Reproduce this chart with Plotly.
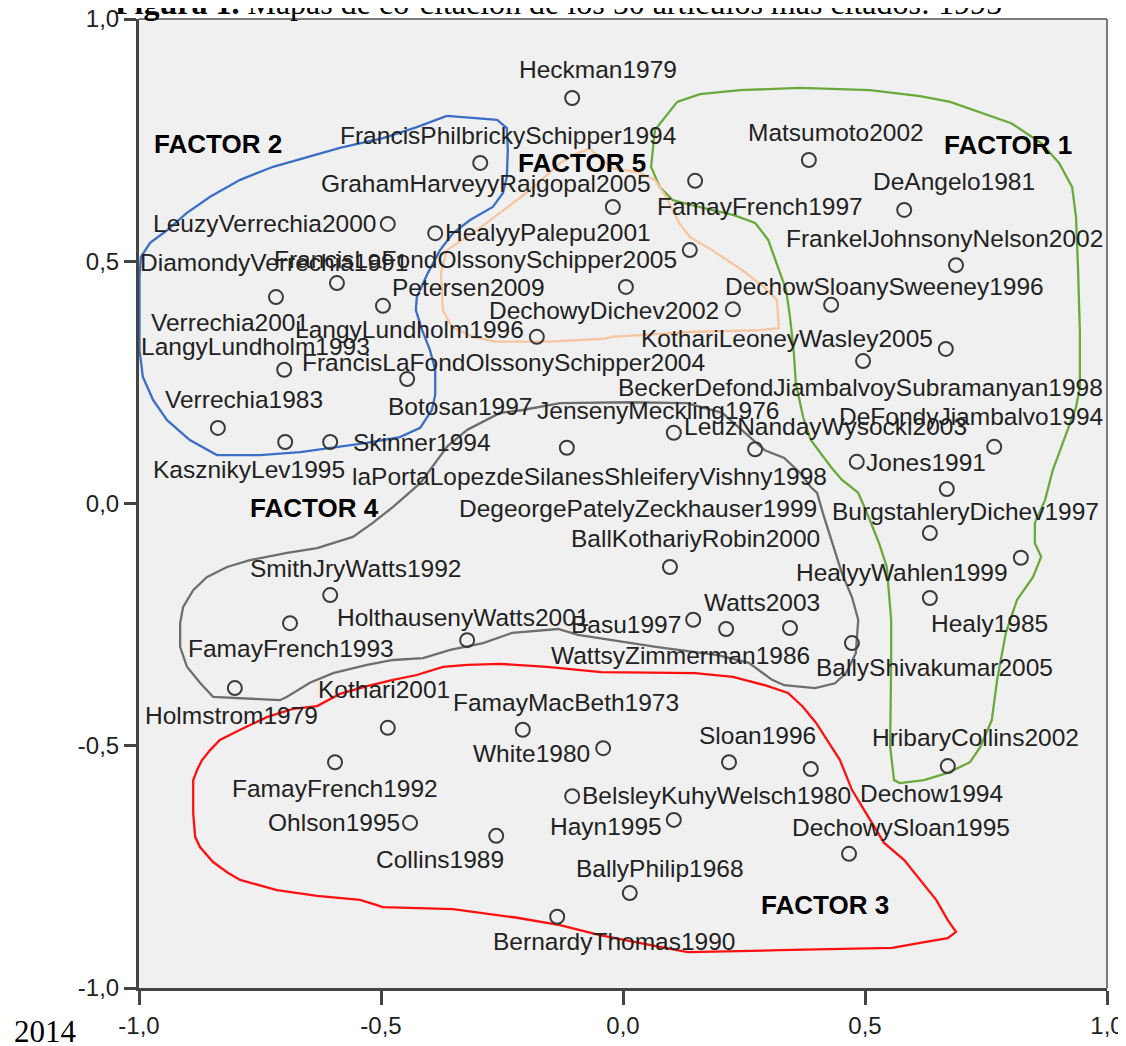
import plotly.graph_objects as go

# ---------------- data ----------------
names = [
    "Heckman1979", "FrancisPhilbrickySchipper1994", "Matsumoto2002", "GrahamHarveyyRajgopal2005",
    "FamayFrench1997", "DeAngelo1981", "LeuzyVerrechia2000", "HealyyPalepu2001",
    "FrankelJohnsonyNelson2002", "DiamondyVerrechia1991", "FrancisLaFondOlssonySchipper2005",
    "DechowSloanySweeney1996", "Petersen2009", "DechowyDichev2002", "Verrechia2001",
    "LangyLundholm1996", "KothariLeoneyWasley2005", "LangyLundholm1993",
    "FrancisLaFondOlssonySchipper2004", "BeckerDefondJiambalvoySubramanyan1998", "Verrechia1983",
    "Botosan1997", "JensenyMeckling1976", "DeFondyJiambalvo1994", "LeuzNandayWysocki2003",
    "Skinner1994", "Jones1991", "KasznikyLev1995", "laPortaLopezdeSilanesShleiferyVishny1998",
    "DegeorgePatelyZeckhauser1999", "BurgstahleryDichev1997", "BallKothariyRobin2000",
    "SmithJryWatts1992", "HealyyWahlen1999", "HolthausenyWatts2001", "Watts2003",
    "FamayFrench1993", "Basu1997", "Healy1985", "WattsyZimmerman1986", "BallyShivakumar2005",
    "Holmstrom1979", "Kothari2001", "FamayMacBeth1973", "Sloan1996", "HribaryCollins2002",
    "White1980", "FamayFrench1992", "BelsleyKuhyWelsch1980", "Dechow1994", "Ohlson1995",
    "Hayn1995", "DechowySloan1995", "Collins1989", "BallyPhilip1968", "BernardyThomas1990",
]
dim1 = [
    -0.105, -0.295, 0.384, -0.021, 0.149, 0.581, -0.486, -0.388,
    0.688, -0.717, 0.138, 0.430, -0.496, 0.227, -0.591,
    -0.178, 0.667, 0.006, -0.700, 0.496, -0.837,
    -0.446, 0.273, 0.767, 0.105, -0.605, 0.483, -0.698, -0.116,
    0.634, 0.669, 0.097, -0.605, 0.822, -0.322, 0.345,
    -0.688, 0.145, 0.634, 0.213, 0.473,
    -0.802, -0.486, -0.207, 0.219, 0.671, -0.041, -0.595, -0.105, 0.388, -0.440,
    0.105, 0.467, -0.262, 0.014, -0.136,
]
dim2 = [
    0.837, 0.703, 0.709, 0.612, 0.666, 0.606, 0.577, 0.558,
    0.492, 0.426, 0.523, 0.410, 0.408, 0.401, 0.455,
    0.344, 0.319, 0.447, 0.276, 0.294, 0.156,
    0.257, 0.112, 0.117, 0.146, 0.127, 0.086, 0.127, 0.115,
    -0.061, 0.030, -0.131, -0.189, -0.112, -0.282, -0.257,
    -0.247, -0.240, -0.195, -0.259, -0.288,
    -0.381, -0.463, -0.467, -0.534, -0.542, -0.505, -0.534, -0.604, -0.548, -0.659,
    -0.653, -0.723, -0.686, -0.804, -0.853,
]

tick_vals = [-1.0, -0.5, 0.0, 0.5, 1.0]
tick_text = ["-1,0", "-0,5", "0,0", "0,5", "1,0"]

# label placement (anchor, dx px, dy px) relative to each point
label_place = [
    ("center", 26, -28), ("center", 28, -27), ("center", 27, -27), ("right", 40, -23),
    ("left", -40, 26), ("center", 50, -28), ("right", -10, 0), ("left", 8, -1),
    ("right", 149, -27), ("left", -138, -35), ("right", -11, 9),
    ("left", -108, -18), ("left", 7, -18), ("right", -12, 1), ("left", -188, 39),
    ("right", -11, -7), ("right", -11, -10), ("left", -487, 60),
    ("left", 16, -7), ("right", 242, 26), ("left", -55, -28),
    ("left", -21, 28), ("left", -220, -39), ("right", 111, -30), ("left", 8, -6),
    ("left", 21, 1), ("left", 7, 1), ("left", -134, 28), ("left", -217, 29),
    ("right", -111, -25), ("right", 154, 23), ("left", -101, -28),
    ("left", -82, -27), ("right", -11, 15), ("left", -132, -23), ("left", -88, -26),
    ("left", -104, 25), ("right", -10, 5), ("left", -1, 26), ("left", -177, 27), ("left", -38, 24),
    ("left", -92, 27), ("left", -72, -38), ("left", -72, -27), ("left", -32, -27), ("left", -78, -29),
    ("right", -11, 5), ("left", -105, 26), ("left", 8, -1), ("left", 47, 24), ("right", -8, 0),
    ("right", -10, 7), ("left", -59, -26), ("left", -122, 24), ("left", -56, -25), ("left", -66, 25),
]

# hand-drawn factor outlines (data units)
factor_outlines = {
    "FACTOR 1": dict(color="#6aaa3c", x=[
        0.112, 0.066, 0.058, 0.076, 0.103, 0.157, 0.229, 0.273, 0.300, 0.318, 0.337, 0.345, 0.353,
        0.357, 0.372, 0.388, 0.430, 0.452, 0.486, 0.510, 0.529, 0.545, 0.550, 0.554, 0.554, 0.552,
        0.552, 0.560, 0.572, 0.622, 0.671, 0.717, 0.738, 0.762, 0.773, 0.791, 0.814, 0.847, 0.864,
        0.851, 0.851, 0.872, 0.888, 0.901, 0.917, 0.936, 0.944, 0.944, 0.940, 0.936, 0.928, 0.901,
        0.864, 0.802, 0.676, 0.614, 0.510, 0.366, 0.242, 0.159, 0.112],
        y=[
        0.829, 0.771, 0.695, 0.653, 0.626, 0.612, 0.595, 0.579, 0.544, 0.496, 0.441, 0.385, 0.311,
        0.249, 0.179, 0.131, 0.075, 0.049, 0.022, -0.034, -0.082, -0.131, -0.193, -0.240, -0.329, -0.447,
        -0.502, -0.571, -0.577, -0.571, -0.556, -0.534, -0.503, -0.447, -0.364, -0.267, -0.199, -0.152, -0.110,
        -0.082, -0.040, 0.007, 0.069, 0.104, 0.146, 0.199, 0.240, 0.352, 0.488, 0.591, 0.653, 0.703,
        0.744, 0.785, 0.829, 0.841, 0.853, 0.858, 0.853, 0.845, 0.829]),
    "FACTOR 2": dict(color="#3b6fc6", x=[
        -0.364, -0.260, -0.240, -0.238, -0.240, -0.248, -0.269, -0.316, -0.351, -0.378, -0.403, -0.426,
        -0.428, -0.415, -0.399, -0.388, -0.388, -0.395, -0.419, -0.461, -0.529, -0.599, -0.667, -0.750,
        -0.839, -0.895, -0.942, -0.971, -0.992, -0.999, -0.999, -0.999, -0.999, -0.996, -0.977, -0.942,
        -0.901, -0.853, -0.791, -0.723, -0.653, -0.585, -0.496, -0.426, -0.364],
        y=[
        0.800, 0.792, 0.775, 0.730, 0.674, 0.641, 0.612, 0.585, 0.558, 0.523, 0.476, 0.426,
        0.399, 0.358, 0.317, 0.276, 0.224, 0.193, 0.156, 0.137, 0.125, 0.116, 0.106, 0.100,
        0.100, 0.131, 0.172, 0.214, 0.261, 0.317, 0.364, 0.420, 0.467, 0.509, 0.538, 0.564,
        0.600, 0.633, 0.668, 0.695, 0.715, 0.734, 0.754, 0.777, 0.800]),
    "FACTOR 3": dict(color="#ff1010", x=[
        -0.475, -0.529, -0.585, -0.632, -0.682, -0.736, -0.791, -0.833, -0.853, -0.870, -0.880, -0.888,
        -0.888, -0.884, -0.874, -0.847, -0.818, -0.791, -0.715, -0.632, -0.543, -0.496, -0.351, -0.289,
        -0.219, -0.130, -0.048, 0.076, 0.134, 0.324, 0.556, 0.614, 0.671, 0.688, 0.671, 0.647, 0.614,
        0.581, 0.539, 0.498, 0.473, 0.448, 0.399, 0.372, 0.341, 0.293, 0.227, 0.149, -0.045, -0.157,
        -0.254, -0.322, -0.372, -0.426, -0.475],
        y=[
        -0.364, -0.377, -0.393, -0.418, -0.424, -0.441, -0.467, -0.488, -0.509, -0.530, -0.550, -0.571,
        -0.639, -0.688, -0.709, -0.740, -0.761, -0.777, -0.798, -0.810, -0.818, -0.833, -0.837, -0.845,
        -0.855, -0.870, -0.891, -0.915, -0.926, -0.922, -0.917, -0.907, -0.897, -0.884, -0.860, -0.818, -0.777,
        -0.736, -0.700, -0.633, -0.591, -0.529, -0.453, -0.420, -0.391, -0.375, -0.358, -0.350, -0.348, -0.337,
        -0.331, -0.333, -0.337, -0.354, -0.364]),
    "FACTOR 4": dict(color="#6e6e6e", x=[
        -0.322, -0.254, -0.207, -0.130, 0.012, 0.132, 0.205, 0.244, 0.293, 0.333, 0.366, 0.388, 0.401,
        0.413, 0.430, 0.452, 0.473, 0.486, 0.481, 0.461, 0.438, 0.397, 0.333, 0.308, 0.260, 0.196,
        0.068, -0.093, -0.134, -0.229, -0.289, -0.357, -0.413, -0.475, -0.529, -0.599, -0.647, -0.694,
        -0.709, -0.806, -0.847, -0.874, -0.901, -0.915, -0.915, -0.909, -0.888, -0.860, -0.818, -0.771,
        -0.694, -0.632, -0.558, -0.517, -0.475, -0.419, -0.384, -0.362, -0.322],
        y=[
        0.152, 0.187, 0.193, 0.207, 0.209, 0.207, 0.187, 0.152, 0.110, 0.094, 0.063, 0.034, 0.022,
        -0.020, -0.075, -0.143, -0.193, -0.240, -0.309, -0.350, -0.371, -0.381, -0.375, -0.364, -0.329, -0.313,
        -0.296, -0.271, -0.259, -0.267, -0.288, -0.302, -0.319, -0.323, -0.333, -0.350, -0.370, -0.399,
        -0.406, -0.401, -0.399, -0.370, -0.337, -0.296, -0.247, -0.214, -0.179, -0.152, -0.131, -0.117,
        -0.102, -0.092, -0.069, -0.040, -0.007, 0.042, 0.090, 0.119, 0.152]),
    "FACTOR 5": dict(color="#f7c6a0", x=[
        -0.068, -0.023, 0.031, 0.066, 0.089, 0.116, 0.138, 0.184, 0.246, 0.291, 0.318, 0.322, 0.283,
        0.138, -0.023, -0.041, -0.149, -0.264, -0.310, -0.353, -0.372, -0.376, -0.364, -0.310, -0.246,
        -0.192, -0.130, -0.095, -0.068],
        y=[
        0.732, 0.692, 0.684, 0.668, 0.633, 0.579, 0.550, 0.523, 0.482, 0.447, 0.420, 0.362, 0.358,
        0.354, 0.344, 0.340, 0.334, 0.334, 0.344, 0.364, 0.399, 0.476, 0.523, 0.558, 0.606,
        0.647, 0.703, 0.723, 0.732]),
}
factor_label_pos = {
    "FACTOR 1": (0.795, 0.740), "FACTOR 2": (-0.837, 0.741), "FACTOR 3": (0.417, -0.829),
    "FACTOR 4": (-0.638, -0.009), "FACTOR 5": (-0.085, 0.703),
}

# ---------------- figure ----------------
SANS = "Liberation Sans, Arial, sans-serif"
SERIF = "Liberation Serif, Times New Roman, serif"

fig = go.Figure()
for name, o in factor_outlines.items():
    fig.add_trace(go.Scatter(x=o["x"], y=o["y"], mode="lines",
                             line=dict(color=o["color"], width=2.3),
                             hoverinfo="skip", showlegend=False))

fig.add_trace(go.Scatter(
    x=dim1, y=dim2, mode="markers", text=names, hoverinfo="text", showlegend=False,
    marker=dict(symbol="circle-open", size=14, color="#3a3a3a", line=dict(width=2, color="#3a3a3a")),
))

annotations = []
for nm, xv, yv, (anc, dx, dy) in zip(names, dim1, dim2, label_place):
    annotations.append(dict(x=xv, y=yv, xref="x", yref="y", text=nm, showarrow=False,
                            xanchor=anc, yanchor="middle", xshift=dx, yshift=-dy,
                            font=dict(family=SANS, size=24.5, color="#222222")))
for nm, (xv, yv) in factor_label_pos.items():
    annotations.append(dict(x=xv, y=yv, xref="x", yref="y", text="<b>%s</b>" % nm, showarrow=False,
                            xanchor="center", yanchor="middle",
                            font=dict(family=SANS, size=26, color="#000000")))

annotations.append(dict(
    x=-0.027, y=1.0, xref="paper", yref="paper", xanchor="left", yanchor="bottom", yshift=-4,
    text="<b>Figura 1.</b> Mapas de co-citación de los 50 artículos más citados: 1995",
    showarrow=False, font=dict(family=SERIF, size=32, color="#000000")))
annotations.append(dict(
    x=-0.131, y=-0.0248, xref="paper", yref="paper", xanchor="left", yanchor="top",
    text="2014", showarrow=False, font=dict(family=SERIF, size=31, color="#000000")))

axis_common = dict(
    range=[-1, 1], tickvals=tick_vals, ticktext=tick_text, ticks="outside",
    tickwidth=3, tickcolor="#444444", showline=True, linewidth=3, linecolor="#444444",
    showgrid=False, zeroline=False, automargin=False, ticklabeloverflow="allow",
    tickfont=dict(family=SANS, size=24, color="#222222"),
)

# the page body adds an 8 px offset; the figure is sized so the plot area
# lands where the reference has it
fig.update_layout(
    width=1118, height=1038,
    margin=dict(l=131, r=19, t=11, b=58),
    paper_bgcolor="white", plot_bgcolor="#f0f0f0",
    xaxis=dict(axis_common, ticklen=14),
    yaxis=dict(axis_common, ticklen=12),
    annotations=annotations,
    shapes=[
        dict(type="line", xref="paper", yref="paper", x0=0, x1=1, y0=1, y1=1,
             line=dict(color="#7a7a7a", width=2)),
        dict(type="line", xref="paper", yref="paper", x0=1, x1=1, y0=0, y1=1,
             line=dict(color="#7a7a7a", width=2)),
    ],
    showlegend=False,
)

fig.write_html("out.html")
